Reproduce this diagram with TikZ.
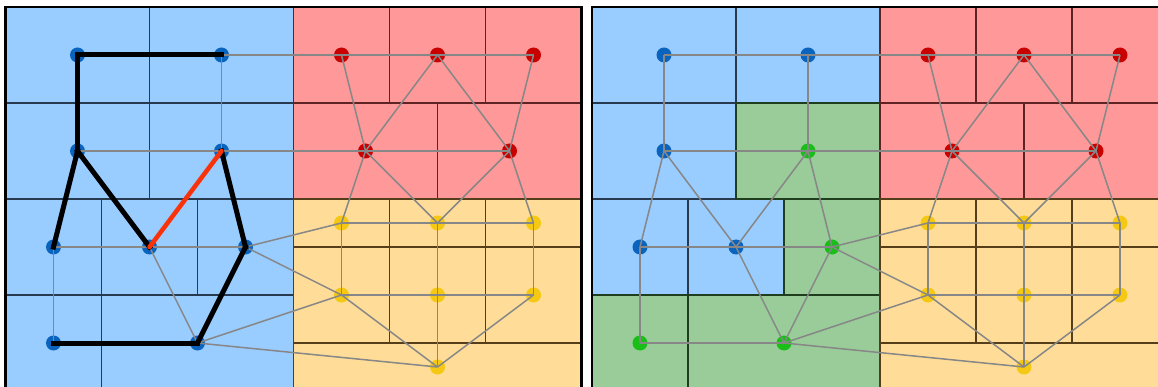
\documentclass[tikz,border=0pt]{standalone}
\definecolor{blueF}{RGB}{153,204,255}
\definecolor{redF}{RGB}{255,153,153}
\definecolor{yelF}{RGB}{255,221,153}
\definecolor{greenF}{RGB}{153,204,153}
\definecolor{blueL}{RGB}{40,58,80}
\definecolor{redL}{RGB}{95,35,35}
\definecolor{yelL}{RGB}{85,62,25}
\definecolor{greenL}{RGB}{30,62,30}
\definecolor{blueN}{RGB}{10,100,190}
\definecolor{redN}{RGB}{200,0,0}
\definecolor{yelN}{RGB}{245,200,20}
\definecolor{greenN}{RGB}{25,190,25}
\definecolor{linkC}{RGB}{135,135,135}
\definecolor{hotC}{RGB}{250,50,10}
\tikzset{
  cellbox/.style={line width=1.3pt},
  frame/.style={draw=black, line width=2.2pt},
  gnode/.style={circle, inner sep=0pt, minimum size=15pt, draw=none},
  link/.style={draw=linkC, line width=1.5pt},
  bold/.style={draw=black, line width=5pt, line cap=rect},
  hot/.style={draw=hotC, line width=4.5pt, line cap=round},
}
\newcommand{\drawpanel}[5]{%
\begin{scope}[shift={(#2,7)}, name prefix=#1-]
  \foreach \xa/\ya/\xb/\yb in {0/0/144/96, 144/0/288/96, 0/96/144/192, 0/192/96/288, 96/192/192/288}
    \filldraw[cellbox, fill=blueF, draw=blueL] (\xa,\ya) rectangle (\xb,\yb);
  \foreach \xa/\ya/\xb/\yb in {144/96/288/192, 192/192/288/288, 0/288/96/384, 96/288/288/384}
    \filldraw[cellbox, fill=#3, draw=#5] (\xa,\ya) rectangle (\xb,\yb);
  \foreach \xa/\ya/\xb/\yb in {288/0/384/96, 384/0/480/96, 480/0/576/96, 288/96/432/192, 432/96/576/192}
    \filldraw[cellbox, fill=redF, draw=redL] (\xa,\ya) rectangle (\xb,\yb);
  \foreach \xa/\ya/\xb/\yb in {288/192/384/240, 384/192/480/240, 480/192/576/240, 288/240/384/336, 384/240/480/336, 480/240/576/336, 288/336/576/384}
    \filldraw[cellbox, fill=yelF, draw=yelL] (\xa,\ya) rectangle (\xb,\yb);
  \draw[frame] (0,0) rectangle (576,384);
  \foreach \n/\x/\y in {B1/72/48, B2/216/48, B3/72/144, B5/48/240, B6/144/240}
    \node[gnode, fill=blueN] (\n) at (\x,\y) {};
  \foreach \n/\x/\y in {B4/216/144, B7/240/240, B8/48/336, B9/192/336}
    \node[gnode, fill=#4] (\n) at (\x,\y) {};
  \foreach \n/\x/\y in {R1/336/48, R2/432/48, R3/528/48, R4/360/144, R5/504/144}
    \node[gnode, fill=redN] (\n) at (\x,\y) {};
  \foreach \n/\x/\y in {Y1/336/216, Y2/432/216, Y3/528/216, Y4/336/288, Y5/432/288, Y6/528/288, Y7/432/360}
    \node[gnode, fill=yelN] (\n) at (\x,\y) {};
  \foreach \a/\b in {B1/B2, B1/B3, B2/B4, B3/B4, B2/R1, R1/R2, R2/R3, B4/R4, R4/R5,
      R1/R4, R2/R4, R2/R5, R3/R5, R4/Y1, R4/Y2, R5/Y2, R5/Y3,
      Y1/Y2, Y2/Y3, Y1/Y4, Y2/Y5, Y3/Y6, Y4/Y5, Y5/Y6, Y5/Y7, Y4/Y7, Y6/Y7,
      B3/B5, B3/B6, B4/B6, B4/B7, B5/B6, B6/B7, B5/B8, B6/B9, B7/B9, B8/B9,
      B7/Y1, B7/Y4, B9/Y4, B9/Y7}
    \draw[link] (\a.center) -- (\b.center);
\end{scope}}
\begin{document}
\begin{tikzpicture}[x=1pt,y=-1pt]
\useasboundingbox (0,0) rectangle (1158,387);
\fill[white] (0,0) rectangle (1158,387);
\clip (0,0) rectangle (1158,387);
\drawpanel{L}{5.5}{blueF}{blueN}{blueL}
\drawpanel{R}{592}{greenF}{greenN}{greenL}
\foreach \a/\b in {B1/B2, B1/B3, B3/B5, B3/B6, B4/B7, B7/B9, B8/B9}
  \draw[bold] (L-\a.center) -- (L-\b.center);
\draw[hot] (L-B4.center) -- (L-B6.center);
\end{tikzpicture}
\end{document}
